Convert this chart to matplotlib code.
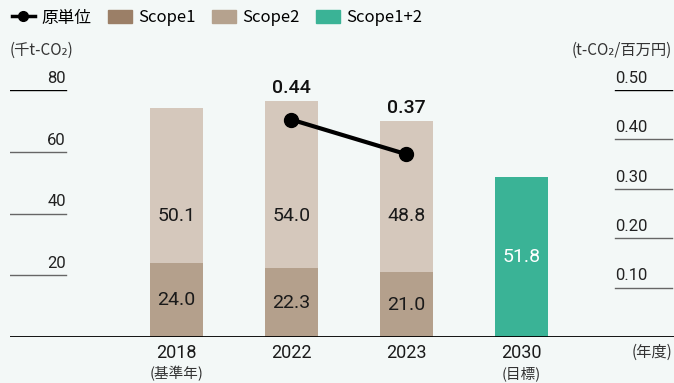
import matplotlib.pyplot as plt
from matplotlib.lines import Line2D
from matplotlib.patches import Patch

years = ['2018', '2022', '2023', '2030']
year_notes = ['(基準年)', '', '', '(目標)']
scope1 = [24.0, 22.3, 21.0]
scope2 = [50.1, 54.0, 48.8]
scope12_target = 51.8
intensity_years = [1, 2]
intensity = [0.44, 0.37]
left_ticks = [20, 40, 60, 80]
right_ticks = [0.10, 0.20, 0.30, 0.40, 0.50]

bg = '#f3f8f7'
c_s1 = '#b4a08c'
c_s2 = '#d5c8bc'
c_s12 = '#3ab396'
jp = ['Noto Sans CJK JP', 'DejaVu Sans']
num = ['Roboto', 'DejaVu Sans']

fig = plt.figure(figsize=(6.74, 3.83), dpi=100, facecolor=bg)
ax = fig.add_axes([10 / 674, 46 / 383, 664 / 674, 247 / 383])
ax.set_facecolor('none')
ax.set_xlim(-1.45, 4.33)
ax.set_ylim(0, 80)
ax2 = ax.twinx()
ax2.set_ylim(0, 0.5)
for a in (ax, ax2):
    a.set_xticks([])
    a.set_yticks([])
    for s in a.spines.values():
        s.set_visible(False)

w = 0.46
x = list(range(len(years)))
ax.bar(x[:3], scope1, w, color=c_s1, zorder=2)
ax.bar(x[:3], scope2, w, bottom=scope1, color=c_s2, zorder=2)
ax.bar(x[3], scope12_target, w, color=c_s12, zorder=2)

# value labels inside the bars
for i in range(3):
    ax.text(x[i], scope1[i] / 2, f'{scope1[i]:.1f}', ha='center', va='center',
            fontsize=14, family=num, color='#1a1a1a', zorder=4)
    ax.text(x[i], 39.3, f'{scope2[i]:.1f}', ha='center', va='center',
            fontsize=14, family=num, color='#1a1a1a', zorder=4)
ax.text(x[3], scope12_target / 2, f'{scope12_target:.1f}', ha='center', va='center',
        fontsize=14, family=num, color='white', zorder=4)

# intensity line on the right scale, values shown above the stacked bars
ax2.plot(intensity_years, intensity, color='black', lw=3, marker='o', ms=10, zorder=5)
for xi, v in zip(intensity_years, intensity):
    total = scope1[xi] + scope2[xi]
    ax.annotate(f'{v:.2f}', (xi, total), xytext=(0, 3), textcoords='offset points',
                ha='center', va='bottom', fontsize=14, family=num, weight='medium',
                color='#111111', annotation_clip=False)

# short gridline stubs with labels
for v in left_ticks:
    ax.axhline(v, 0, 0.084, color='black' if v == 80 else '#666666', lw=1)
    ax.annotate(str(v), (0.084, v), xycoords=('axes fraction', 'data'),
                xytext=(0, 3), textcoords='offset points', ha='right', va='bottom',
                fontsize=12, family=num, color='#222222', annotation_clip=False)
for v in right_ticks:
    ax2.axhline(v, 0.911, 0.997, color='black' if v == 0.5 else '#666666', lw=1)
    ax2.annotate(f'{v:.2f}', (0.911, v), xycoords=('axes fraction', 'data'),
                 xytext=(0, 3), textcoords='offset points', ha='left', va='bottom',
                 fontsize=12, family=num, color='#222222', annotation_clip=False)
ax.axhline(0, color='black', lw=1.3, zorder=3)

# category labels under the baseline
for i, (y, n) in enumerate(zip(years, year_notes)):
    ax.annotate(y, (x[i], 0), xytext=(0, -5), textcoords='offset points',
                ha='center', va='top', fontsize=13, family=num, color='#1a1a1a',
                annotation_clip=False)
    if n:
        ax.annotate(n, (x[i], 0), xytext=(0, -21), textcoords='offset points',
                    ha='center', va='top', fontsize=10.5, family=jp, color='#333333',
                    annotation_clip=False)
fig.text(672 / 674, 1 - 352 / 383, '(年度)', ha='right', va='center',
         fontsize=11, family=jp, color='#333333')

# axis units
fig.text(10 / 674, 1 - 50 / 383, '(千t-CO₂)', ha='left', va='center',
         fontsize=11, family=jp, color='#333333')
fig.text(672 / 674, 1 - 50 / 383, '(t-CO₂/百万円)', ha='right', va='center',
         fontsize=11, family=jp, color='#333333')

handles = [
    Line2D([], [], color='black', lw=2.5, marker='o', ms=7),
    Patch(color='#9b7f67'),
    Patch(color='#b5a28e'),
    Patch(color=c_s12),
]
fig.legend(handles, ['原単位', 'Scope1', 'Scope2', 'Scope1+2'], loc='center left',
           bbox_to_anchor=(0.0, 1 - 18 / 383), ncol=4, frameon=False,
           prop={'family': jp, 'size': 12}, handlelength=1.4, handleheight=0.8,
           handletextpad=0.4, columnspacing=1.0, borderaxespad=0.3)

fig.savefig('out.png', dpi=100, facecolor=bg)
